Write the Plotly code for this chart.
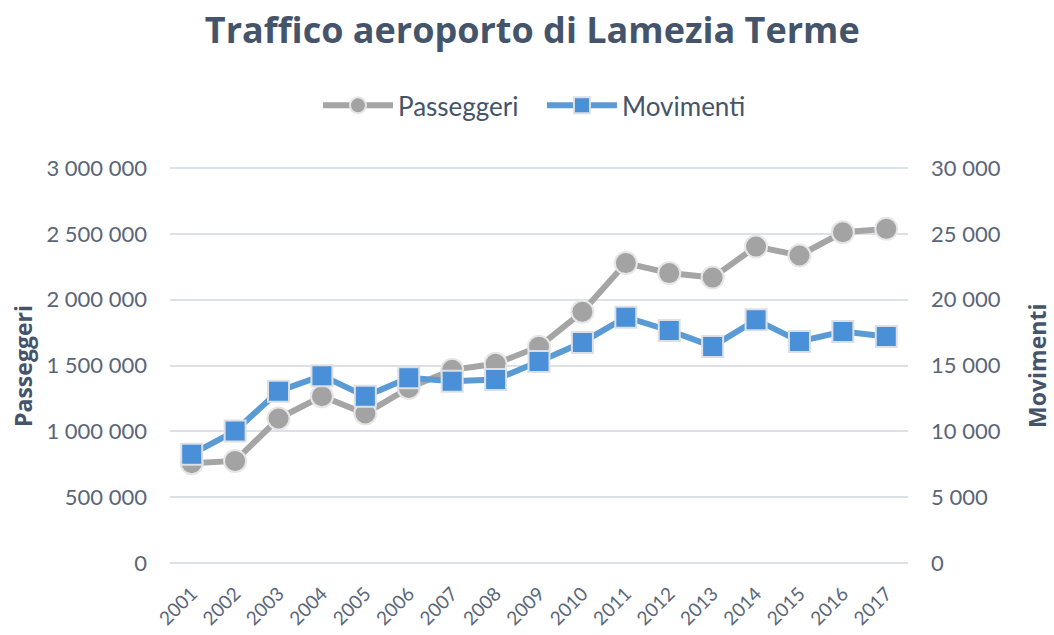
import plotly.graph_objects as go

years = [str(y) for y in range(2001, 2018)]
passeggeri = [757000, 775000, 1097000, 1266000, 1135000, 1329000, 1467000, 1513000,
              1643000, 1908000, 2278000, 2202000, 2168000, 2404000, 2336000, 2512000, 2538000]
movimenti = [8260, 10020, 13050, 14230, 12670, 14060, 13800, 13930,
             15310, 16750, 18670, 17660, 16450, 18470, 16830, 17580, 17200]

TEXT = "#44546A"
TICK = "#5A6678"
GRID = "#DCE1E8"
FONT = "Lato"

fig = go.Figure()
fig.add_trace(go.Scatter(
    x=years, y=passeggeri, name="Passeggeri", mode="lines+markers",
    line=dict(color="#A5A5A5", width=6),
    marker=dict(symbol="circle", size=22, color="#A3A3A3",
                line=dict(color="#E6E6E6", width=2)),
    yaxis="y",
))
fig.add_trace(go.Scatter(
    x=years, y=movimenti, name="Movimenti", mode="lines+markers",
    line=dict(color="#5B9BD5", width=6),
    marker=dict(symbol="square", size=21, color="#4A90D8",
                line=dict(color="#DCE0E6", width=2)),
    yaxis="y2",
))

fig.update_layout(
    width=1054, height=635,
    margin=dict(l=170, r=146, t=167, b=71),
    paper_bgcolor="white", plot_bgcolor="white",
    separators=", ",
    title=dict(text="<b>Traffico aeroporto di Lamezia Terme</b>",
               x=0.505, xanchor="center", y=0.952, yanchor="middle",
               font=dict(family="Open Sans", size=36, color=TEXT)),
    legend=dict(orientation="h", x=0.2005, xanchor="left", y=1.155, yanchor="middle",
                font=dict(family=FONT, size=26, color=TEXT), itemwidth=70,
                entrywidth=139, entrywidthmode="pixels", traceorder="normal"),
    xaxis=dict(type="category", range=[-0.5, 16.5], showgrid=False, zeroline=False,
               showline=False, tickangle=-45, ticks="", ticklabelstandoff=14,
               automargin=False, tickfont=dict(family=FONT, size=19, color=TICK)),
    yaxis=dict(range=[-8000, 3008000], tickvals=[0, 500000, 1000000, 1500000, 2000000, 2500000, 3000000],
               tickformat=",d", showgrid=True, gridcolor=GRID, gridwidth=2,
               zeroline=False, showline=False, ticklabelstandoff=22, automargin=False,
               tickfont=dict(family=FONT, size=22, color=TICK)),
    yaxis2=dict(range=[-80, 30080], tickvals=[0, 5000, 10000, 15000, 20000, 25000, 30000],
                tickformat=",d", overlaying="y", side="right", showgrid=False,
                zeroline=False, showline=False, ticklabelstandoff=22, automargin=False,
                tickfont=dict(family=FONT, size=22, color=TICK)),
    annotations=[
        dict(text="<b>Passeggeri</b>", xref="paper", yref="paper", x=-0.2, y=0.5,
             xanchor="center", yanchor="middle", textangle=-90, showarrow=False,
             font=dict(family="Open Sans", size=23, color=TEXT)),
        dict(text="<b>Movimenti</b>", xref="paper", yref="paper", x=1.174, y=0.5,
             xanchor="center", yanchor="middle", textangle=-90, showarrow=False,
             font=dict(family="Open Sans", size=23, color=TEXT)),
    ],
)

fig.write_html("out.html")
